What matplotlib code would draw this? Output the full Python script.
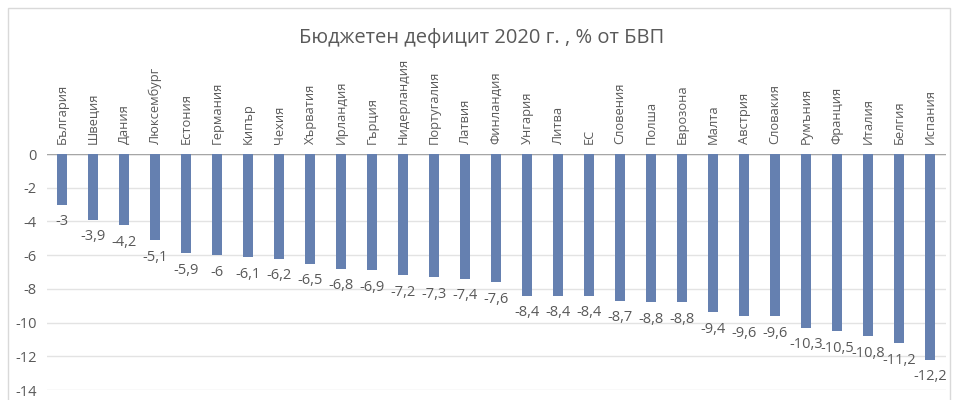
import numpy as np
import matplotlib.pyplot as plt
from matplotlib.patches import Rectangle

plt.rcParams['font.family'] = ['Open Sans', 'DejaVu Sans']

countries = ['България', 'Швеция', 'Дания', 'Люксембург', 'Естония', 'Германия',
             'Кипър', 'Чехия', 'Хърватия', 'Ирландия', 'Гърция', 'Нидерландия',
             'Португалия', 'Латвия', 'Финландия', 'Унгария', 'Литва', 'ЕС',
             'Словения', 'Полша', 'Еврозона', 'Малта', 'Австрия', 'Словакия',
             'Румъния', 'Франция', 'Италия', 'Белгия', 'Испания']
deficit = [-3, -3.9, -4.2, -5.1, -5.9, -6, -6.1, -6.2, -6.5, -6.8, -6.9, -7.2,
           -7.3, -7.4, -7.6, -8.4, -8.4, -8.4, -8.7, -8.8, -8.8, -9.4, -9.6, -9.6,
           -10.3, -10.5, -10.8, -11.2, -12.2]
yticks = [0, -2, -4, -6, -8, -10, -12, -14]

txt = '#595959'
fig = plt.figure(figsize=(9.55, 4), dpi=100)
# рамка на диаграмата
fig.patches.append(Rectangle((8 / 955, -0.01), 942 / 955, 1 - 8 / 400 + 0.01,
                             transform=fig.transFigure, fill=False,
                             edgecolor='#d9d9d9', linewidth=1))
ax = fig.add_axes([46.5 / 955, 10 / 400, 899 / 955, 236 / 400])

x = np.arange(len(countries))
ax.bar(x, deficit, width=0.33, color='#6580b0', zorder=3)
for xi, v in zip(x, deficit):
    lbl = f'{v:g}'.replace('.', ',')
    ax.annotate(lbl, (xi, v), xytext=(0, -7), textcoords='offset points',
                ha='center', va='top', fontsize=10.5, color=txt)

ax.set_xlim(-0.5, len(countries) - 0.5)
ax.set_ylim(-14, 0)
ax.set_yticks(yticks)
ax.set_yticklabels([str(t) for t in yticks], fontsize=10.5, color=txt)
ax.yaxis.grid(True, color='#e3e3e3', linewidth=1, zorder=0)
ax.axhline(0, color='#a6a6a6', linewidth=1, zorder=2)
ax.xaxis.tick_top()
ax.set_xticks(x)
ax.set_xticklabels(countries, rotation=90, fontsize=9.3, color=txt)
ax.tick_params(axis='x', length=0, pad=7)
ax.tick_params(axis='y', length=0, pad=7)
for s in ax.spines.values():
    s.set_visible(False)

fig.text(482 / 955, 1 - 38 / 400, 'Бюджетен дефицит 2020 г. , % от БВП',
         ha='center', va='center', fontsize=14.5, color=txt)

plt.savefig('out.png', dpi=100)
